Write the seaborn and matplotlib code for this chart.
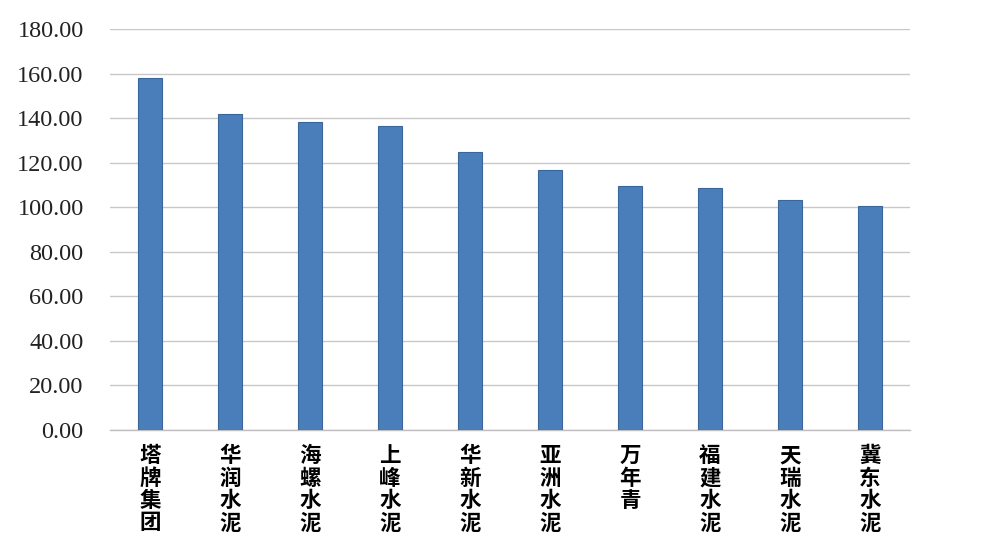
import matplotlib
matplotlib.use("Agg")
import matplotlib.pyplot as plt
import seaborn as sns
import pandas as pd

companies = ["塔牌集团", "华润水泥", "海螺水泥", "上峰水泥", "华新水泥",
             "亚洲水泥", "万年青", "福建水泥", "天瑞水泥", "冀东水泥"]
values = [158.0, 141.8, 138.3, 136.4, 124.7, 116.7, 109.5, 108.6, 103.2, 100.5]
yticks = [0, 20, 40, 60, 80, 100, 120, 140, 160, 180]

sns.set_theme(style="white")
plt.rcParams['font.family'] = ['Noto Sans CJK SC', 'DejaVu Sans']

df = pd.DataFrame({"company": companies, "value": values})

fig = plt.figure(figsize=(9.84, 5.58), dpi=100)
ax = fig.add_axes([0.1118, 0.2294, 0.813, 0.7186])

sns.barplot(data=df, x="company", y="value", color="#4A7EBB", width=0.29,
            edgecolor="#3A6699", linewidth=0.8, saturation=1, ax=ax, zorder=3)

ax.set_ylim(0, 180)
ax.set_xlim(-0.5, len(companies) - 0.5)
ax.set_yticks(yticks)
ax.set_yticklabels([f"{v:.2f}" for v in yticks], family="Liberation Serif",
                   fontsize=17.5, color="#222222")
ax.tick_params(axis="y", length=0, pad=19)
ax.tick_params(axis="x", length=0, pad=11)
ax.set_xticks(range(len(companies)))
ax.set_xticklabels(["\n".join(c) for c in companies], fontsize=15.5,
                   fontweight="bold", color="black", linespacing=1.08, va="top")
ax.grid(axis="y", color="#C8C8C8", linewidth=1.0, zorder=0)
ax.grid(axis="x", visible=False)
for s in ["left", "right", "top"]:
    ax.spines[s].set_visible(False)
ax.spines["bottom"].set_color("#BFBFBF")
ax.spines["bottom"].set_linewidth(1.0)
ax.set_xlabel("")
ax.set_ylabel("")

fig.savefig("out.png", dpi=100, facecolor="white")
